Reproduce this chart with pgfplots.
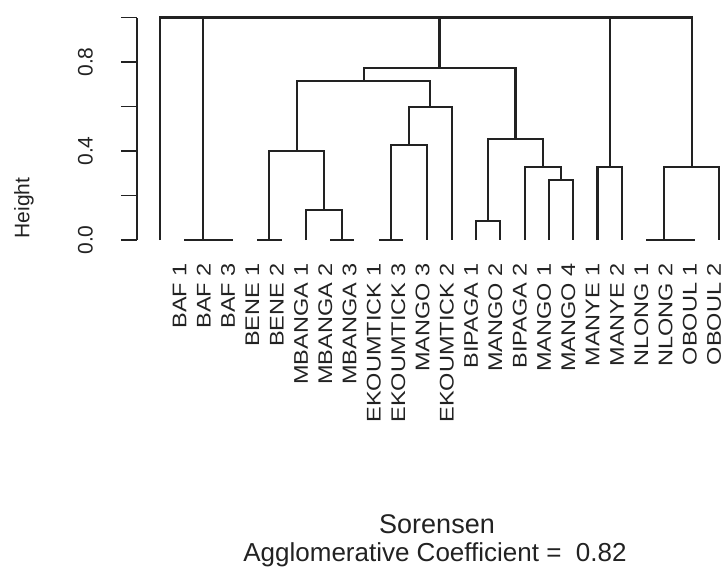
\documentclass[border=0pt]{standalone}
\usepackage{pgfplots}
\pgfplotsset{compat=1.18}
\usepackage{fontspec}
\setmainfont{Liberation Sans}
\usepackage{graphicx}

\definecolor{ink}{HTML}{222222}

\tikzset{
    link/.style={line width=2.1pt, color=ink, mark=none},
    leaflab/.style={rotate=90, anchor=east, inner sep=0pt,
        font=\fontsize{23.5}{28}\selectfont, text=ink},
}

% leaf label: x = leaf index, text squeezed across like the R output
\newcommand\leaf[2]{\node[leaflab] at (axis cs:#1-0.2,-0.1034) {\scalebox{1}[0.84]{#2}};}

\begin{document}
\begin{tikzpicture}[x=1pt,y=1pt]
\useasboundingbox (0,0) rectangle (725,566);
\begin{axis}[
    at={(137pt,326pt)}, anchor=south west,
    scale only axis, width=582pt, height=222.5pt,
    xmin=-0.95, xmax=23, ymin=0, ymax=1,
    clip=false,
    axis x line=none, axis y line*=left,
    y axis line style={line width=1.8pt, ink, -},
    ytick={0,0.2,0.4,0.6,0.8,1},
    yticklabels={0.0,,0.4,,0.8,},
    tick align=outside, major tick length=16pt,
    ytick style={line width=1.8pt, ink},
    yticklabel style={rotate=90, anchor=south, inner sep=0pt,
        font=\fontsize{21}{25}\selectfont, text=ink},
    yticklabel shift=28pt,
]
% merges as U shapes: (x1,h1) (x1,H) (x2,H) (x2,h2)
\addplot[link] coordinates {(2,0) (3,0)};
\addplot[link] coordinates {(1,0) (2.5,0)};
\addplot[link] coordinates {(4,0) (5,0)};
\addplot[link] coordinates {(7,0) (8,0)};
\addplot[link] coordinates {(6,0) (6,0.135) (7.5,0.135) (7.5,0)};
\addplot[link] coordinates {(4.5,0) (4.5,0.40) (6.75,0.40) (6.75,0.135)};
\addplot[link] coordinates {(9,0) (10,0)};
\addplot[link] coordinates {(9.5,0) (9.5,0.427) (11,0.427) (11,0)};
\addplot[link] coordinates {(10.25,0.427) (10.25,0.598) (12,0.598) (12,0)};
\addplot[link] coordinates {(5.625,0.40) (5.625,0.715) (11.125,0.715) (11.125,0.598)};
\addplot[link] coordinates {(13,0) (13,0.085) (14,0.085) (14,0)};
\addplot[link] coordinates {(16,0) (16,0.27) (17,0.27) (17,0)};
\addplot[link] coordinates {(15,0) (15,0.328) (16.5,0.328) (16.5,0.27)};
\addplot[link] coordinates {(13.5,0.085) (13.5,0.454) (15.75,0.454) (15.75,0.328)};
\addplot[link] coordinates {(8.375,0.715) (8.375,0.775) (14.625,0.775) (14.625,0.454)};
\addplot[link] coordinates {(18,0) (18,0.328) (19,0.328) (19,0)};
\addplot[link] coordinates {(21,0) (22,0)};
\addplot[link] coordinates {(20,0) (21.5,0)};
\addplot[link] coordinates {(20.75,0) (20.75,0.328) (23,0.328) (23,0)};
% top level merges at height 1
\addplot[link] coordinates {(0,0) (0,1) (21.875,1) (21.875,0.328)};
\addplot[link] coordinates {(1.75,0) (1.75,1)};
\addplot[link] coordinates {(11.5,0.775) (11.5,1)};
\addplot[link] coordinates {(18.5,0.328) (18.5,1)};

\leaf{1}{BAF 1}
\leaf{2}{BAF 2}
\leaf{3}{BAF 3}
\leaf{4}{BENE 1}
\leaf{5}{BENE 2}
\leaf{6}{MBANGA 1}
\leaf{7}{MBANGA 2}
\leaf{8}{MBANGA 3}
\leaf{9}{EKOUMTICK 1}
\leaf{10}{EKOUMTICK 3}
\leaf{11}{MANGO 3}
\leaf{12}{EKOUMTICK 2}
\leaf{13}{BIPAGA 1}
\leaf{14}{MANGO 2}
\leaf{15}{BIPAGA 2}
\leaf{16}{MANGO 1}
\leaf{17}{MANGO 4}
\leaf{18}{MANYE 1}
\leaf{19}{MANYE 2}
\leaf{20}{NLONG 1}
\leaf{21}{NLONG 2}
\leaf{22}{OBOUL 1}
\leaf{23}{OBOUL 2}
\end{axis}

\node[rotate=90, font=\fontsize{21}{25}\selectfont, text=ink] at (24,358) {Height};
\node[anchor=base, font=\fontsize{27}{32}\selectfont, text=ink] at (437,33) {Sorensen};
\node[anchor=base, font=\fontsize{26}{31}\selectfont, text=ink] at (435,5) {Agglomerative Coefficient =\ \ 0.82};
\end{tikzpicture}
\end{document}
